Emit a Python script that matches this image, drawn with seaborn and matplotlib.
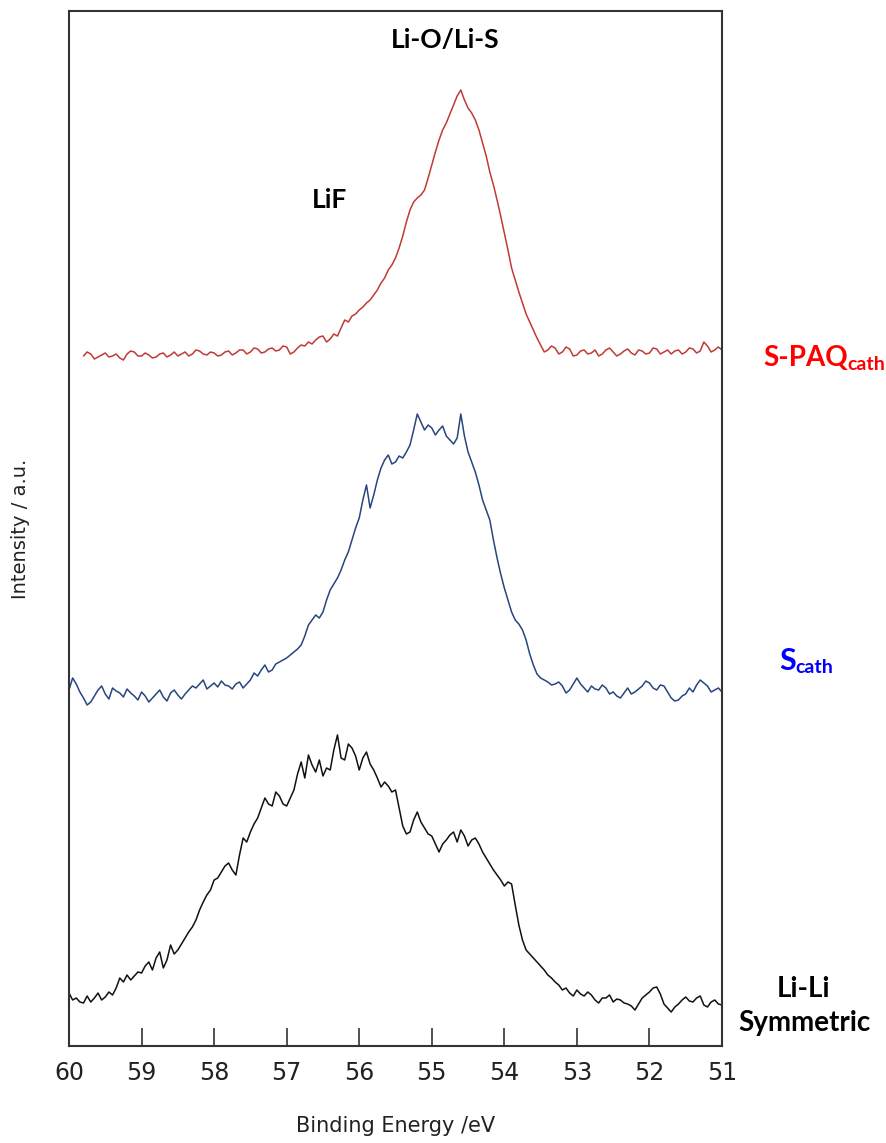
import numpy as np
import pandas as pd
import seaborn as sns
import matplotlib.pyplot as plt

# binding energy grid: first point (eV) and step, curves run from high to low BE
start_spaq = 59.8
start_scath = 60.0
start_lili = 60.0
step = 0.05

# intensities (a.u., stacked as in the figure)
spaq = [684, 688, 686, 681, 683, 685, 687, 683, 684, 686, 682, 680, 686, 689, 688, 684, 684, 687, 685, 682,
        683, 686, 687, 683, 685, 688, 684, 686, 688, 684, 686, 690, 689, 686, 685, 688, 687, 684, 685, 688,
        689, 685, 687, 690, 690, 686, 688, 692, 691, 687, 688, 691, 692, 689, 690, 694, 693, 686, 688, 692,
        695, 694, 698, 696, 700, 703, 704, 698, 701, 706, 704, 712, 720, 718, 724, 726, 730, 733, 737, 740,
        745, 750, 757, 762, 770, 775, 782, 792, 804, 818, 830, 838, 842, 845, 850, 862, 875, 888, 900, 910,
        917, 926, 935, 944, 950, 940, 932, 927, 920, 910, 897, 884, 868, 855, 840, 824, 807, 790, 772, 760,
        748, 737, 726, 718, 710, 702, 695, 688, 690, 694, 692, 686, 688, 693, 691, 684, 685, 689, 690, 686,
        687, 690, 684, 686, 690, 692, 688, 684, 686, 689, 691, 687, 685, 690, 689, 686, 687, 692, 691, 686,
        688, 690, 686, 689, 690, 686, 688, 692, 691, 687, 689, 698, 694, 688, 690, 693, 690]

scath = [350, 362, 356, 348, 342, 335, 338, 344, 350, 354, 346, 341, 352, 349, 347, 343, 351, 347, 344, 340,
         348, 344, 338, 342, 346, 350, 343, 339, 347, 350, 345, 341, 346, 350, 354, 352, 356, 360, 351, 354,
         357, 353, 359, 355, 354, 351, 356, 358, 352, 356, 360, 367, 364, 370, 375, 368, 370, 376, 378, 380,
         382, 385, 388, 391, 395, 404, 415, 420, 425, 422, 428, 440, 450, 456, 462, 470, 480, 488, 500, 512,
         522, 540, 555, 532, 545, 560, 572, 580, 585, 576, 578, 584, 582, 588, 595, 610, 626, 618, 610, 615,
         612, 605, 610, 614, 604, 600, 596, 602, 626, 604, 588, 578, 568, 555, 540, 530, 520, 500, 482, 466,
         452, 440, 428, 420, 416, 410, 400, 386, 375, 366, 362, 360, 358, 355, 356, 358, 354, 347, 350, 356,
         362, 356, 352, 348, 354, 351, 350, 355, 352, 346, 348, 344, 342, 347, 352, 346, 348, 351, 354, 359,
         357, 352, 350, 355, 354, 348, 342, 339, 340, 344, 346, 352, 348, 355, 360, 357, 354, 348, 350, 352,
         348]

lili = [47, 40, 42, 38, 37, 44, 38, 42, 47, 40, 43, 48, 45, 52, 62, 58, 65, 60, 64, 68,
        67, 74, 78, 70, 82, 88, 72, 80, 95, 86, 90, 96, 102, 108, 113, 120, 130, 138, 145, 150,
        160, 162, 168, 174, 177, 170, 165, 185, 202, 198, 208, 216, 222, 232, 242, 236, 234, 248, 244, 236,
        234, 242, 250, 266, 278, 262, 285, 275, 268, 280, 264, 272, 270, 290, 305, 282, 280, 296, 292, 284,
        270, 282, 288, 276, 270, 262, 253, 258, 254, 248, 250, 232, 214, 206, 208, 220, 228, 218, 212, 206,
        204, 196, 188, 196, 200, 205, 208, 198, 210, 204, 194, 200, 202, 196, 188, 182, 176, 170, 165, 160,
        154, 158, 156, 135, 115, 100, 90, 86, 82, 78, 74, 70, 65, 62, 58, 55, 50, 52, 47, 44,
        50, 46, 44, 48, 45, 40, 37, 42, 42, 45, 38, 41, 40, 37, 36, 34, 30, 36, 42, 45,
        48, 52, 53, 46, 36, 32, 28, 33, 36, 40, 43, 39, 38, 42, 44, 35, 33, 38, 40, 36,
        35]

samples = ["S-PAQ cath", "S cath", "Li-Li Symmetric"]
colors = ["#c03a36", "#27457f", "#111111"]
xticks = [60, 59, 58, 57, 56, 55, 54, 53, 52, 51]

frames = []
for name, start, vals in zip(samples, [start_spaq, start_scath, start_lili], [spaq, scath, lili]):
    energy = np.round(start - step * np.arange(len(vals)), 3)
    frames.append(pd.DataFrame({"energy": energy, "intensity": vals, "sample": name}))
df = pd.concat(frames, ignore_index=True)

sns.set_style("ticks")
plt.rcParams['font.family'] = ['DejaVu Sans']

W, H = 887, 1143
fig = plt.figure(figsize=(W / 100, H / 100), dpi=100)
ax = fig.add_axes([69 / W, 1 - 1046 / H, 653 / W, 1035 / H])

sns.lineplot(data=df, x="energy", y="intensity", hue="sample",
             palette=dict(zip(samples, colors)), estimator=None, sort=False,
             linewidth=1.1, legend=False, ax=ax)

ax.set_xlim(60, 51)
ax.set_ylim(-6, 1029)
ax.set_xticks(xticks)
ax.set_xticklabels([str(t) for t in xticks])
ax.set_yticks([])
ax.tick_params(axis='x', direction='in', length=13, width=1.1, pad=11,
               labelsize=17, colors='#222222')
for sp in ax.spines.values():
    sp.set_visible(True)
    sp.set_color('#333333')
    sp.set_linewidth(1.5)

ax.set_xlabel("Binding Energy /eV", fontsize=15, color='#222222', labelpad=22)
ax.set_ylabel("Intensity / a.u.", fontsize=14, color='#222222')
ax.yaxis.set_label_coords(-0.06, 0.5)

# peak / sample labels
bold = dict(family=['Lato', 'DejaVu Sans'], fontweight='bold')
fig.text(445 / W, 1 - 40 / H, "Li-O/Li-S", ha='center', va='center', fontsize=19, color='black', **bold)
fig.text(330 / W, 1 - 200 / H, "LiF", ha='center', va='center', fontsize=19, color='black', **bold)

t1 = fig.text(763 / W, 1 - 366 / H, "S-PAQ", ha='left', va='baseline', fontsize=20, color='#ff0000', **bold)
ax.annotate("cath", xy=(1.0, 1 - 370 / H), xycoords=(t1, 'figure fraction'),
            ha='left', va='baseline', fontsize=14, color='#ff0000', **bold)

t2 = fig.text(779 / W, 1 - 670 / H, "S", ha='left', va='baseline', fontsize=22, color='#0000ff', **bold)
ax.annotate("cath", xy=(1.0, 1 - 673 / H), xycoords=(t2, 'figure fraction'),
            ha='left', va='baseline', fontsize=14, color='#0000ff', **bold)

fig.text(804 / W, 1 - 989 / H, "Li-Li", ha='center', va='center', fontsize=20, color='black', **bold)
fig.text(804 / W, 1 - 1023 / H, "Symmetric", ha='center', va='center', fontsize=20, color='black', **bold)

fig.savefig("out.png", dpi=100)
